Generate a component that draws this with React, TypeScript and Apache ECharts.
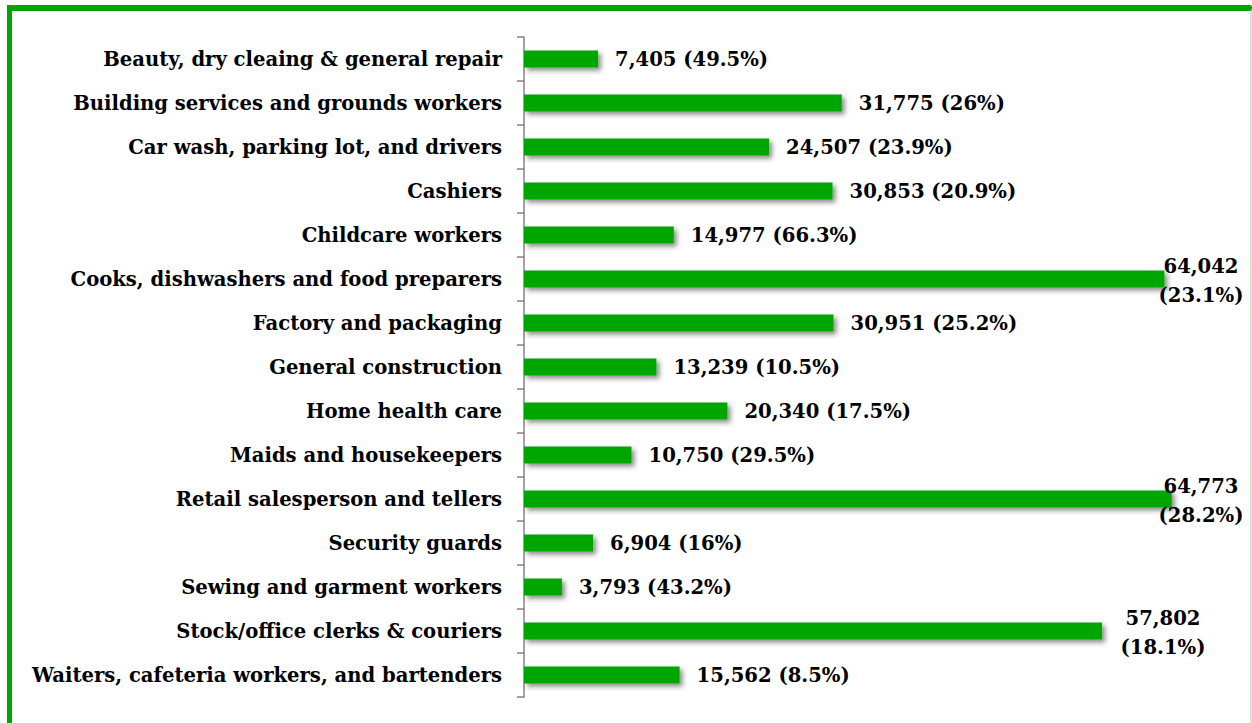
import React, { useEffect, useRef } from "react";
import * as echarts from "echarts";

const categories = [
  "Beauty, dry cleaing & general repair",
  "Building services and grounds workers",
  "Car wash, parking lot, and drivers",
  "Cashiers",
  "Childcare workers",
  "Cooks, dishwashers and food preparers",
  "Factory and packaging",
  "General construction",
  "Home health care",
  "Maids and housekeepers",
  "Retail salesperson and tellers",
  "Security guards",
  "Sewing and garment workers",
  "Stock/office clerks & couriers",
  "Waiters, cafeteria workers, and bartenders",
];

const counts = [7405, 31775, 24507, 30853, 14977, 64042, 30951, 13239, 20340, 10750, 64773, 6904, 3793, 57802, 15562];

const shares = ["49.5%", "26%", "23.9%", "20.9%", "66.3%", "23.1%", "25.2%", "10.5%", "17.5%", "29.5%", "28.2%", "16%", "43.2%", "18.1%", "8.5%"];

const GREEN = "#00a600";
const FONT = "'DejaVu Serif', 'Liberation Serif', serif";

export default function App() {
  const ref = useRef<HTMLDivElement>(null);

  useEffect(() => {
    document.body.style.margin = "0";
    if (!ref.current) return;
    const chart = echarts.init(ref.current, undefined, { renderer: "svg" });

    const gridLeft = 524;
    const gridWidth = 700;
    const xMax = 70000;
    const labelGap = 17;
    const rightBound = 1245;
    const halfWrapped = 44;

    const wraps = (v: number) => gridLeft + (v / xMax) * gridWidth + labelGap + 160 > rightBound;

    const data = counts.map((v) => {
      const barEnd = gridLeft + (v / xMax) * gridWidth;
      const item: any = { value: v };
      if (wraps(v)) {
        const center = Math.min(barEnd + labelGap + halfWrapped, rightBound - halfWrapped);
        item.label = {
          align: "center",
          lineHeight: 29,
          offset: [center - (barEnd + labelGap), 2],
        };
      }
      return item;
    });

    chart.setOption({
      animation: false,
      backgroundColor: "#ffffff",
      grid: { left: gridLeft, width: gridWidth, top: 37, height: 660 },
      xAxis: {
        type: "value",
        min: 0,
        max: xMax,
        show: false,
      },
      yAxis: {
        type: "category",
        data: categories,
        inverse: true,
        axisLine: { show: true, lineStyle: { color: "#858585", width: 1.5 } },
        axisTick: { show: true, length: 7, lineStyle: { color: "#858585", width: 1.5 } },
        axisLabel: {
          margin: 22,
          color: "#000",
          fontFamily: FONT,
          fontWeight: "bold",
          fontSize: 19.6,
        },
        splitLine: { show: false },
      },
      series: [
        {
          type: "bar",
          data,
          barWidth: 17,
          itemStyle: {
            color: GREEN,
            shadowColor: "rgba(0,0,0,0.45)",
            shadowBlur: 5,
            shadowOffsetX: 3,
            shadowOffsetY: 3,
          },
          label: {
            show: true,
            position: "right",
            distance: labelGap,
            color: "#000",
            fontFamily: FONT,
            fontWeight: "bold",
            fontSize: 19.6,
            formatter: (p: any) => {
              const i = p.dataIndex;
              const v = counts[i];
              const n = v.toLocaleString("en-US");
              return wraps(v) ? `${n}\n(${shares[i]})` : `${n} (${shares[i]})`;
            },
          },
        },
      ],
      graphic: [
        { type: "rect", shape: { x: 7, y: 5, width: 5, height: 718 }, style: { fill: GREEN } },
        { type: "rect", shape: { x: 7, y: 5, width: 1245, height: 6, r: 2 }, style: { fill: GREEN } },
        { type: "rect", shape: { x: 1250, y: 11, width: 2, height: 712 }, style: { fill: "#cfe8cf" } },
      ],
    });

    return () => chart.dispose();
  }, []);

  return <div ref={ref} style={{ width: 1252, height: 723 }} />;
}
